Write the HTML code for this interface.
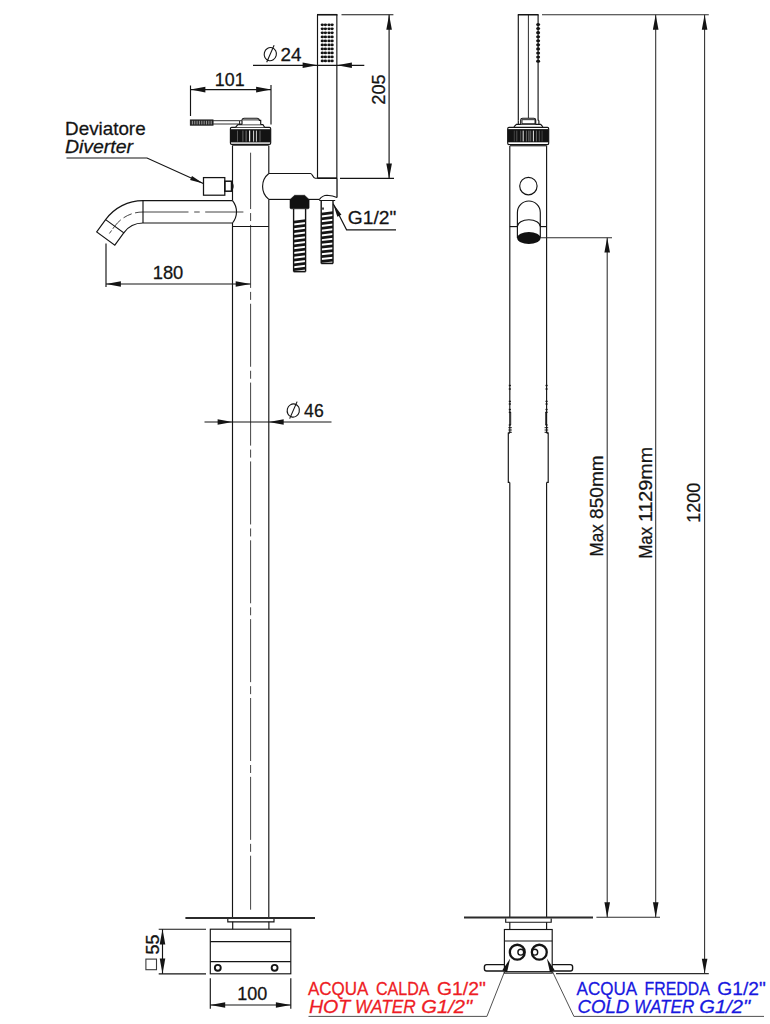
<!DOCTYPE html>
<html><head><meta charset="utf-8"><title>Drawing</title>
<style>
html,body{margin:0;padding:0;background:#fff;}
body{width:770px;height:1024px;overflow:hidden;}
svg{display:block;font-family:"Liberation Sans",sans-serif;}
</style></head>
<body>
<svg width="770" height="1024" viewBox="0 0 770 1024">
<rect width="770" height="1024" fill="#ffffff"/>
<line x1="232.5" y1="145.5" x2="232.5" y2="200.6" stroke="#141414" stroke-width="1.15" />
<line x1="232.5" y1="223" x2="232.5" y2="917.5" stroke="#141414" stroke-width="1.15" />
<line x1="268.8" y1="145.5" x2="268.8" y2="173.5" stroke="#141414" stroke-width="1.15" />
<line x1="268.8" y1="199.4" x2="268.8" y2="917.5" stroke="#141414" stroke-width="1.15" />
<line x1="232.5" y1="226.5" x2="268.8" y2="226.5" stroke="#141414" stroke-width="1.15" />
<line x1="250.6" y1="152.7" x2="250.6" y2="909.7" stroke="#141414" stroke-width="0.8" stroke-dasharray="63 4 8 3.85" stroke-dashoffset="6.65"/>
<path d="M232.5,200.6 A17.7,17.7 0 0 1 232.5,223" stroke="#141414" stroke-width="1.15" fill="none" />
<line x1="143" y1="200.6" x2="232.5" y2="200.6" stroke="#141414" stroke-width="1.15" />
<line x1="143" y1="223" x2="232.5" y2="223" stroke="#141414" stroke-width="1.15" />
<line x1="143" y1="200.6" x2="143" y2="223" stroke="#141414" stroke-width="1.15" />
<path d="M143,200.6 A46.2,46.2 0 0 0 105.62,219.64" stroke="#141414" stroke-width="1.15" fill="none" />
<path d="M143,223 A23.8,23.8 0 0 0 123.75,232.81" stroke="#141414" stroke-width="1.15" fill="none" />
<path d="M105.62,219.64 L123.75,232.81 L114.81,245.11 L96.69,231.94 Z" stroke="#141414" stroke-width="1.15" fill="none" />
<line x1="143" y1="212" x2="243.4" y2="212" stroke="#141414" stroke-width="0.8" stroke-dasharray="45.5 5.7 5.5 5.5 100"/>
<path d="M143,212 A35.0,35.0 0 0 0 114.68,226.23 l-5.29,7.28" stroke="#141414" stroke-width="0.8" fill="none" stroke-dasharray="8 3.5 9 3.5 12 2 9"/>
<rect x="203.5" y="177.6" width="21.3" height="17.6" fill="none" stroke="#141414" stroke-width="1.25"/>
<rect x="224.8" y="181.2" width="6.7" height="10" fill="none" stroke="#141414" stroke-width="1.5"/>
<path d="M232,182.5 Q234.3,186.2 232,190" stroke="#141414" stroke-width="1.15" fill="none" />
<rect x="232" y="144.4" width="36.8" height="1.5" fill="#4a4a4a"/>
<rect x="230.4" y="127.4" width="40.3" height="17" rx="1.3" fill="#fff" stroke="#141414" stroke-width="1.15"/>
<rect x="230.4" y="129.2" width="40.3" height="13.2" fill="#131313"/>
<line x1="237.5" y1="130.6" x2="237.5" y2="141.6" stroke="#555" stroke-width="1" />
<line x1="242.9" y1="130.6" x2="242.9" y2="141.6" stroke="#666" stroke-width="1" />
<line x1="246.1" y1="130.6" x2="246.1" y2="141.6" stroke="#777" stroke-width="1" />
<line x1="249.6" y1="130.6" x2="249.6" y2="141.6" stroke="#e8e8e8" stroke-width="1.2" />
<line x1="253.6" y1="130.6" x2="253.6" y2="141.6" stroke="#d8d8d8" stroke-width="1" />
<line x1="256.4" y1="130.6" x2="256.4" y2="141.6" stroke="#d0d0d0" stroke-width="1" />
<line x1="260" y1="130.6" x2="260" y2="141.6" stroke="#666" stroke-width="1" />
<path d="M235.7,127.2 L237.9,124.6 H262.9 L264.6,127.2" stroke="#141414" stroke-width="1.15" fill="#fff" />
<path d="M242,124.4 V120.2 Q242.1,118.2 244.2,118.2 H257.3 Q259.2,118.2 259.4,120.3 H260.7 V124.4" stroke="#141414" stroke-width="1.15" fill="#fff" />
<line x1="243" y1="119.9" x2="259.4" y2="119.9" stroke="#141414" stroke-width="0.9" />
<line x1="239.6" y1="121" x2="239.6" y2="124.4" stroke="#141414" stroke-width="1" />
<rect x="190.3" y="119.9" width="22.8" height="5.3" fill="#2a2a2a" stroke="#141414" stroke-width="0.8"/>
<line x1="192.4" y1="120.8" x2="192.4" y2="124.4" stroke="#b5b5b5" stroke-width="0.8" />
<line x1="194.75" y1="120.8" x2="194.75" y2="124.4" stroke="#b5b5b5" stroke-width="0.8" />
<line x1="197.1" y1="120.8" x2="197.1" y2="124.4" stroke="#b5b5b5" stroke-width="0.8" />
<line x1="199.45000000000002" y1="120.8" x2="199.45000000000002" y2="124.4" stroke="#b5b5b5" stroke-width="0.8" />
<line x1="201.8" y1="120.8" x2="201.8" y2="124.4" stroke="#b5b5b5" stroke-width="0.8" />
<line x1="204.15" y1="120.8" x2="204.15" y2="124.4" stroke="#b5b5b5" stroke-width="0.8" />
<line x1="206.5" y1="120.8" x2="206.5" y2="124.4" stroke="#b5b5b5" stroke-width="0.8" />
<line x1="208.85" y1="120.8" x2="208.85" y2="124.4" stroke="#b5b5b5" stroke-width="0.8" />
<line x1="211.20000000000002" y1="120.8" x2="211.20000000000002" y2="124.4" stroke="#b5b5b5" stroke-width="0.8" />
<line x1="213" y1="120.7" x2="242" y2="120.7" stroke="#333" stroke-width="1" />
<line x1="213" y1="124" x2="242" y2="124" stroke="#333" stroke-width="1" />
<path d="M268.8,173.5 A16.6,16.6 0 0 0 268.8,199.4" stroke="#141414" stroke-width="1.15" fill="none" />
<path d="M268.8,173.5 H310.5 C312.8,173.5 312.6,178.2 315.2,178.2 H337" stroke="#141414" stroke-width="1.15" fill="none" />
<line x1="317.5" y1="178.2" x2="337" y2="178.2" stroke="#141414" stroke-width="1.6" />
<line x1="336.85" y1="14.75" x2="336.85" y2="178.2" stroke="#141414" stroke-width="1.15" />
<line x1="337" y1="178.2" x2="337" y2="197.4" stroke="#141414" stroke-width="1.3" />
<line x1="268.8" y1="199.4" x2="290.5" y2="199.4" stroke="#141414" stroke-width="1.15" />
<line x1="308.5" y1="199.4" x2="319.3" y2="199.4" stroke="#141414" stroke-width="1.15" />
<path d="M319.3,199.6 Q322.5,195.4 327,195.3 Q333,195.6 337,197.5" stroke="#141414" stroke-width="1.15" fill="none" />
<line x1="319.3" y1="200.5" x2="335.2" y2="200.5" stroke="#141414" stroke-width="1" />
<line x1="317.5" y1="14.75" x2="317.5" y2="178.2" stroke="#141414" stroke-width="1.15" />
<line x1="317" y1="14.75" x2="337.5" y2="14.75" stroke="#141414" stroke-width="1.6" />
<ellipse cx="322.3" cy="24.85" rx="1.65" ry="1.4" fill="#141414"/>
<ellipse cx="325.4" cy="24.85" rx="1.65" ry="1.4" fill="#141414"/>
<ellipse cx="329.0" cy="24.85" rx="1.65" ry="1.4" fill="#141414"/>
<ellipse cx="332.1" cy="24.85" rx="1.65" ry="1.4" fill="#141414"/>
<ellipse cx="322.3" cy="28.86" rx="1.65" ry="1.4" fill="#141414"/>
<ellipse cx="325.4" cy="28.86" rx="1.65" ry="1.4" fill="#141414"/>
<ellipse cx="329.0" cy="28.86" rx="1.65" ry="1.4" fill="#141414"/>
<ellipse cx="332.1" cy="28.86" rx="1.65" ry="1.4" fill="#141414"/>
<ellipse cx="322.3" cy="32.87" rx="1.65" ry="1.4" fill="#141414"/>
<ellipse cx="325.4" cy="32.87" rx="1.65" ry="1.4" fill="#141414"/>
<ellipse cx="329.0" cy="32.87" rx="1.65" ry="1.4" fill="#141414"/>
<ellipse cx="332.1" cy="32.87" rx="1.65" ry="1.4" fill="#141414"/>
<ellipse cx="322.3" cy="36.88" rx="1.65" ry="1.4" fill="#141414"/>
<ellipse cx="325.4" cy="36.88" rx="1.65" ry="1.4" fill="#141414"/>
<ellipse cx="329.0" cy="36.88" rx="1.65" ry="1.4" fill="#141414"/>
<ellipse cx="332.1" cy="36.88" rx="1.65" ry="1.4" fill="#141414"/>
<ellipse cx="322.3" cy="40.89" rx="1.65" ry="1.4" fill="#141414"/>
<ellipse cx="325.4" cy="40.89" rx="1.65" ry="1.4" fill="#141414"/>
<ellipse cx="329.0" cy="40.89" rx="1.65" ry="1.4" fill="#141414"/>
<ellipse cx="332.1" cy="40.89" rx="1.65" ry="1.4" fill="#141414"/>
<ellipse cx="322.3" cy="44.90" rx="1.65" ry="1.4" fill="#141414"/>
<ellipse cx="325.4" cy="44.90" rx="1.65" ry="1.4" fill="#141414"/>
<ellipse cx="329.0" cy="44.90" rx="1.65" ry="1.4" fill="#141414"/>
<ellipse cx="332.1" cy="44.90" rx="1.65" ry="1.4" fill="#141414"/>
<ellipse cx="322.3" cy="48.91" rx="1.65" ry="1.4" fill="#141414"/>
<ellipse cx="325.4" cy="48.91" rx="1.65" ry="1.4" fill="#141414"/>
<ellipse cx="329.0" cy="48.91" rx="1.65" ry="1.4" fill="#141414"/>
<ellipse cx="332.1" cy="48.91" rx="1.65" ry="1.4" fill="#141414"/>
<ellipse cx="322.3" cy="52.92" rx="1.65" ry="1.4" fill="#141414"/>
<ellipse cx="325.4" cy="52.92" rx="1.65" ry="1.4" fill="#141414"/>
<ellipse cx="329.0" cy="52.92" rx="1.65" ry="1.4" fill="#141414"/>
<ellipse cx="332.1" cy="52.92" rx="1.65" ry="1.4" fill="#141414"/>
<ellipse cx="322.3" cy="56.93" rx="1.65" ry="1.4" fill="#141414"/>
<ellipse cx="325.4" cy="56.93" rx="1.65" ry="1.4" fill="#141414"/>
<ellipse cx="329.0" cy="56.93" rx="1.65" ry="1.4" fill="#141414"/>
<ellipse cx="332.1" cy="56.93" rx="1.65" ry="1.4" fill="#141414"/>
<ellipse cx="322.3" cy="60.94" rx="1.65" ry="1.4" fill="#141414"/>
<ellipse cx="325.4" cy="60.94" rx="1.65" ry="1.4" fill="#141414"/>
<ellipse cx="329.0" cy="60.94" rx="1.65" ry="1.4" fill="#141414"/>
<ellipse cx="332.1" cy="60.94" rx="1.65" ry="1.4" fill="#141414"/>
<path d="M290,199.6 L294.6,195.3 H304.6 L309.1,199.6 V207.6 Q309.1,208.8 308,208.8 H291.2 Q290,208.8 290,207.6 Z" stroke="#141414" stroke-width="0.6" fill="#111" />
<line x1="293.6" y1="208.8" x2="293.6" y2="271.6" stroke="#141414" stroke-width="1.4" />
<line x1="305.6" y1="208.8" x2="305.6" y2="271.6" stroke="#141414" stroke-width="1.4" />
<polygon points="293.6,220.70 305.6,219.30 305.6,222.05 293.6,223.45" fill="#141414"/>
<polygon points="293.6,225.45 305.6,224.05 305.6,226.80 293.6,228.20" fill="#141414"/>
<polygon points="293.6,230.21 305.6,228.81 305.6,231.56 293.6,232.96" fill="#141414"/>
<polygon points="293.6,234.96 305.6,233.56 305.6,236.31 293.6,237.71" fill="#141414"/>
<polygon points="293.6,239.72 305.6,238.32 305.6,241.07 293.6,242.47" fill="#141414"/>
<polygon points="293.6,244.47 305.6,243.07 305.6,245.82 293.6,247.22" fill="#141414"/>
<polygon points="293.6,249.23 305.6,247.83 305.6,250.58 293.6,251.98" fill="#141414"/>
<polygon points="293.6,253.98 305.6,252.58 305.6,255.33 293.6,256.73" fill="#141414"/>
<polygon points="293.6,258.74 305.6,257.34 305.6,260.09 293.6,261.49" fill="#141414"/>
<polygon points="293.6,263.49 305.6,262.09 305.6,264.84 293.6,266.24" fill="#141414"/>
<polygon points="293.6,268.25 305.6,266.85 305.6,269.60 293.6,271.00" fill="#141414"/>
<line x1="293.6" y1="271.6" x2="305.6" y2="271.6" stroke="#141414" stroke-width="1.6" />
<line x1="321.2" y1="200.5" x2="321.2" y2="263.4" stroke="#141414" stroke-width="1.4" />
<line x1="333.0" y1="200.5" x2="333.0" y2="263.4" stroke="#141414" stroke-width="1.4" />
<polygon points="321.2,212.70 333.0,211.30 333.0,214.05 321.2,215.45" fill="#141414"/>
<polygon points="321.2,217.44 333.0,216.04 333.0,218.79 321.2,220.19" fill="#141414"/>
<polygon points="321.2,222.17 333.0,220.77 333.0,223.52 321.2,224.92" fill="#141414"/>
<polygon points="321.2,226.91 333.0,225.51 333.0,228.26 321.2,229.66" fill="#141414"/>
<polygon points="321.2,231.65 333.0,230.25 333.0,233.00 321.2,234.40" fill="#141414"/>
<polygon points="321.2,236.38 333.0,234.98 333.0,237.73 321.2,239.13" fill="#141414"/>
<polygon points="321.2,241.12 333.0,239.72 333.0,242.47 321.2,243.87" fill="#141414"/>
<polygon points="321.2,245.85 333.0,244.45 333.0,247.20 321.2,248.60" fill="#141414"/>
<polygon points="321.2,250.59 333.0,249.19 333.0,251.94 321.2,253.34" fill="#141414"/>
<polygon points="321.2,255.33 333.0,253.93 333.0,256.68 321.2,258.08" fill="#141414"/>
<polygon points="321.2,260.06 333.0,258.66 333.0,261.41 321.2,262.81" fill="#141414"/>
<line x1="321.2" y1="263.4" x2="333.0" y2="263.4" stroke="#141414" stroke-width="1.6" />
<rect x="322.2" y="207.5" width="1.6" height="2.2" fill="#141414"/>
<line x1="190.5" y1="85.5" x2="190.5" y2="116" stroke="#141414" stroke-width="1.15" />
<line x1="271" y1="85" x2="271" y2="124.5" stroke="#141414" stroke-width="1.15" />
<line x1="190.5" y1="89.6" x2="271" y2="89.6" stroke="#141414" stroke-width="1.15" />
<polygon points="190.50,89.60 205.40,86.80 205.40,92.40" fill="#141414"/>
<polygon points="271.00,89.60 256.10,92.40 256.10,86.80" fill="#141414"/>
<text x="214.8" y="85.8" font-size="18.6" fill="#141414" stroke="#141414" stroke-width="0.28" stroke-linejoin="round" textLength="29.8" lengthAdjust="spacingAndGlyphs">101</text>
<line x1="253" y1="65.3" x2="364.3" y2="65.3" stroke="#141414" stroke-width="1.15" />
<polygon points="317.50,65.30 302.60,68.10 302.60,62.50" fill="#141414"/>
<polygon points="337.00,65.30 351.90,62.50 351.90,68.10" fill="#141414"/>
<text x="280.5" y="61.3" font-size="18.6" fill="#141414" stroke="#141414" stroke-width="0.28" stroke-linejoin="round" textLength="21.0" lengthAdjust="spacingAndGlyphs">24</text>
<ellipse cx="270.3" cy="54.1" rx="6.1" ry="6.6" fill="none" stroke="#141414" stroke-width="1.1" transform="rotate(15 270.3 54.1)"/>
<line x1="266.7" y1="62.2" x2="274.1" y2="45.2" stroke="#141414" stroke-width="1.1" />
<line x1="341.5" y1="14.75" x2="393.4" y2="14.75" stroke="#141414" stroke-width="1.15" />
<line x1="340" y1="178.4" x2="394" y2="178.4" stroke="#141414" stroke-width="1.15" />
<line x1="389.1" y1="14.75" x2="389.1" y2="178.4" stroke="#141414" stroke-width="1.15" />
<polygon points="389.10,14.75 391.90,29.65 386.30,29.65" fill="#141414"/>
<polygon points="389.10,178.40 386.30,163.50 391.90,163.50" fill="#141414"/>
<text x="385.3" y="104.7" font-size="18.6" fill="#141414" stroke="#141414" stroke-width="0.28" stroke-linejoin="round" textLength="30.4" lengthAdjust="spacingAndGlyphs" transform="rotate(-90 385.3 104.7)">205</text>
<line x1="106" y1="243.4" x2="106" y2="287" stroke="#141414" stroke-width="1.15" />
<line x1="106" y1="284" x2="250.6" y2="284" stroke="#141414" stroke-width="1.15" />
<polygon points="106.00,284.00 120.90,281.20 120.90,286.80" fill="#141414"/>
<polygon points="250.60,284.00 235.70,286.80 235.70,281.20" fill="#141414"/>
<text x="152.7" y="278.8" font-size="18.6" fill="#141414" stroke="#141414" stroke-width="0.28" stroke-linejoin="round" textLength="30.6" lengthAdjust="spacingAndGlyphs">180</text>
<line x1="204.5" y1="422" x2="331.5" y2="422" stroke="#141414" stroke-width="1.15" />
<polygon points="232.50,422.00 217.60,424.80 217.60,419.20" fill="#141414"/>
<polygon points="268.80,422.00 283.70,419.20 283.70,424.80" fill="#141414"/>
<text x="304.1" y="417.3" font-size="18.6" fill="#141414" stroke="#141414" stroke-width="0.28" stroke-linejoin="round" textLength="19.6" lengthAdjust="spacingAndGlyphs">46</text>
<ellipse cx="293.3" cy="410.5" rx="6.1" ry="6.6" fill="none" stroke="#141414" stroke-width="1.1" transform="rotate(15 293.3 410.5)"/>
<line x1="289.7" y1="418.6" x2="297.1" y2="401.6" stroke="#141414" stroke-width="1.1" />
<text x="65.1" y="134.7" font-size="18.6" fill="#141414" stroke="#141414" stroke-width="0.28" stroke-linejoin="round" textLength="80.5" lengthAdjust="spacingAndGlyphs">Deviatore</text>
<text x="64.9" y="152.8" font-size="18.6" fill="#141414" stroke="#141414" stroke-width="0.28" stroke-linejoin="round" textLength="68.2" lengthAdjust="spacingAndGlyphs" font-style="italic">Diverter</text>
<path d="M66.5,158 H147 L203.3,183.6" stroke="#141414" stroke-width="1.15" fill="none" />
<polygon points="203.30,183.60 190.07,180.07 191.99,175.89" fill="#141414"/>
<text x="347.8" y="224" font-size="18.6" fill="#141414" stroke="#141414" stroke-width="0.28" stroke-linejoin="round" textLength="48.5" lengthAdjust="spacingAndGlyphs">G1/2"</text>
<path d="M396,229.8 H346.6 L333.2,203.8" stroke="#141414" stroke-width="1.15" fill="none" />
<polygon points="333.20,203.80 341.43,214.75 337.34,216.85" fill="#141414"/>
<line x1="185.4" y1="918" x2="315" y2="918" stroke="#2b2b2b" stroke-width="2.2" />
<path d="M227.8,919 V921.8 H274 V919" stroke="#141414" stroke-width="1.15" fill="none" />
<line x1="232.7" y1="921.8" x2="232.7" y2="929.2" stroke="#141414" stroke-width="1.15" />
<line x1="268.9" y1="921.8" x2="268.9" y2="929.2" stroke="#141414" stroke-width="1.15" />
<rect x="210.3" y="929.2" width="80.5" height="44.6" fill="none" stroke="#141414" stroke-width="1.15"/>
<line x1="210.3" y1="941.6" x2="290.8" y2="941.6" stroke="#141414" stroke-width="1.15" />
<line x1="210.3" y1="961.6" x2="290.8" y2="961.6" stroke="#141414" stroke-width="1.15" />
<circle cx="217.8" cy="967.8" r="2.95" fill="none" stroke="#141414" stroke-width="1.9"/>
<circle cx="274.6" cy="967.8" r="2.95" fill="none" stroke="#141414" stroke-width="1.9"/>
<line x1="158.7" y1="929.2" x2="206" y2="929.2" stroke="#141414" stroke-width="1.15" />
<line x1="158.7" y1="973.8" x2="206" y2="973.8" stroke="#141414" stroke-width="1.15" />
<line x1="162.5" y1="929.2" x2="162.5" y2="973.8" stroke="#141414" stroke-width="1.15" />
<polygon points="162.50,929.20 165.30,944.60 159.70,944.60" fill="#141414"/>
<polygon points="162.50,973.80 159.70,958.40 165.30,958.40" fill="#141414"/>
<text x="158.6" y="954.6" font-size="18.6" fill="#141414" stroke="#141414" stroke-width="0.28" stroke-linejoin="round" textLength="20.0" lengthAdjust="spacingAndGlyphs" transform="rotate(-90 158.6 954.6)">55</text>
<rect x="145.9" y="959.1" width="10.6" height="10.6" fill="none" stroke="#3a3a3a" stroke-width="1.1"/>
<line x1="210.3" y1="978.3" x2="210.3" y2="1008.7" stroke="#141414" stroke-width="1.15" />
<line x1="290.8" y1="978.3" x2="290.8" y2="1008.7" stroke="#141414" stroke-width="1.15" />
<line x1="210.3" y1="1005" x2="290.8" y2="1005" stroke="#141414" stroke-width="1.15" />
<polygon points="210.30,1005.00 225.20,1002.20 225.20,1007.80" fill="#141414"/>
<polygon points="290.80,1005.00 275.90,1007.80 275.90,1002.20" fill="#141414"/>
<text x="237.2" y="999.5" font-size="18.6" fill="#141414" stroke="#141414" stroke-width="0.28" stroke-linejoin="round" textLength="30.0" lengthAdjust="spacingAndGlyphs">100</text>
<line x1="509.8" y1="146" x2="509.8" y2="433.1" stroke="#141414" stroke-width="1.15" />
<line x1="509.8" y1="482.4" x2="509.8" y2="917" stroke="#141414" stroke-width="1.15" />
<line x1="546.6" y1="146" x2="546.6" y2="433.1" stroke="#141414" stroke-width="1.15" />
<line x1="546.6" y1="482.4" x2="546.6" y2="917" stroke="#141414" stroke-width="1.15" />
<path d="M509.8,433.1 H508.3 V482.4 H509.8" stroke="#141414" stroke-width="1.15" fill="none" />
<path d="M546.6,433.1 H548.2 V482.4 H546.6" stroke="#141414" stroke-width="1.15" fill="none" />
<line x1="508.8" y1="385.5" x2="510.90000000000003" y2="385.5" stroke="#141414" stroke-width="1.3" />
<line x1="545.5" y1="385.5" x2="547.6" y2="385.5" stroke="#141414" stroke-width="1.3" />
<line x1="508.8" y1="389" x2="510.90000000000003" y2="389" stroke="#141414" stroke-width="1.3" />
<line x1="545.5" y1="389" x2="547.6" y2="389" stroke="#141414" stroke-width="1.3" />
<line x1="508.8" y1="401.4" x2="510.90000000000003" y2="401.4" stroke="#141414" stroke-width="1.3" />
<line x1="545.5" y1="401.4" x2="547.6" y2="401.4" stroke="#141414" stroke-width="1.3" />
<line x1="508.8" y1="404" x2="510.90000000000003" y2="404" stroke="#141414" stroke-width="1.3" />
<line x1="545.5" y1="404" x2="547.6" y2="404" stroke="#141414" stroke-width="1.3" />
<line x1="508.8" y1="409.5" x2="510.90000000000003" y2="409.5" stroke="#141414" stroke-width="1.3" />
<line x1="545.5" y1="409.5" x2="547.6" y2="409.5" stroke="#141414" stroke-width="1.3" />
<line x1="508.8" y1="412.3" x2="510.90000000000003" y2="412.3" stroke="#141414" stroke-width="1.3" />
<line x1="545.5" y1="412.3" x2="547.6" y2="412.3" stroke="#141414" stroke-width="1.3" />
<line x1="508.8" y1="425" x2="510.90000000000003" y2="425" stroke="#141414" stroke-width="1.3" />
<line x1="545.5" y1="425" x2="547.6" y2="425" stroke="#141414" stroke-width="1.3" />
<line x1="510.7" y1="412" x2="510.7" y2="425" stroke="#141414" stroke-width="0.9" />
<line x1="545.7" y1="412" x2="545.7" y2="425" stroke="#141414" stroke-width="0.9" />
<line x1="508.40000000000003" y1="427.7" x2="511.8" y2="427.7" stroke="#141414" stroke-width="1" />
<line x1="544.6" y1="427.7" x2="548.2" y2="427.7" stroke="#141414" stroke-width="1" />
<line x1="508.40000000000003" y1="430" x2="511.8" y2="430" stroke="#141414" stroke-width="1" />
<line x1="544.6" y1="430" x2="548.2" y2="430" stroke="#141414" stroke-width="1" />
<line x1="508.40000000000003" y1="432.3" x2="511.8" y2="432.3" stroke="#141414" stroke-width="1" />
<line x1="544.6" y1="432.3" x2="548.2" y2="432.3" stroke="#141414" stroke-width="1" />
<line x1="518.3" y1="14.75" x2="518.3" y2="120.4" stroke="#141414" stroke-width="1.15" />
<line x1="538.1" y1="14.75" x2="538.1" y2="120.4" stroke="#141414" stroke-width="1.15" />
<line x1="528.4" y1="14.75" x2="528.4" y2="118" stroke="#141414" stroke-width="0.9" />
<line x1="517.8" y1="14.75" x2="538.6" y2="14.75" stroke="#141414" stroke-width="1.5" />
<ellipse cx="538.1" cy="24.50" rx="2" ry="1.55" fill="#141414"/>
<ellipse cx="538.1" cy="28.57" rx="2" ry="1.55" fill="#141414"/>
<ellipse cx="538.1" cy="32.64" rx="2" ry="1.55" fill="#141414"/>
<ellipse cx="538.1" cy="36.71" rx="2" ry="1.55" fill="#141414"/>
<ellipse cx="538.1" cy="40.78" rx="2" ry="1.55" fill="#141414"/>
<ellipse cx="538.1" cy="44.85" rx="2" ry="1.55" fill="#141414"/>
<ellipse cx="538.1" cy="48.92" rx="2" ry="1.55" fill="#141414"/>
<ellipse cx="538.1" cy="52.99" rx="2" ry="1.55" fill="#141414"/>
<ellipse cx="538.1" cy="57.06" rx="2" ry="1.55" fill="#141414"/>
<ellipse cx="538.1" cy="61.13" rx="2" ry="1.55" fill="#141414"/>
<path d="M513.9,126.9 L516.4,124.4 H540.7 L542.9,126.9" stroke="#141414" stroke-width="1.15" fill="#fff" />
<path d="M518.3,120.4 V124.3 M538.9,120.4 V124.3 M538.1,120.4 H538.9" stroke="#141414" stroke-width="1.15" fill="none" />
<path d="M520.7,124.3 V120 Q520.8,118.2 522.6,118.2 H533.8 Q535.6,118.2 535.7,120 V124.3" stroke="#141414" stroke-width="1.15" fill="#fff" />
<rect x="522" y="119.7" width="13" height="4" fill="none" stroke="#141414" stroke-width="0.9"/>
<rect x="510" y="144.6" width="36.8" height="1.8" fill="#4a4a4a"/>
<rect x="507.7" y="127.4" width="41" height="17.2" rx="1.3" fill="#fff" stroke="#141414" stroke-width="1.15"/>
<rect x="507.7" y="129.1" width="41" height="13.2" fill="#131313"/>
<line x1="514.3" y1="130.6" x2="514.3" y2="141.4" stroke="#444" stroke-width="1" />
<line x1="516.8" y1="130.6" x2="516.8" y2="141.4" stroke="#555" stroke-width="1" />
<line x1="520.7" y1="130.6" x2="520.7" y2="141.4" stroke="#555" stroke-width="1" />
<line x1="523.2" y1="130.6" x2="523.2" y2="141.4" stroke="#e8e8e8" stroke-width="1" />
<line x1="526.4" y1="130.6" x2="526.4" y2="141.4" stroke="#666" stroke-width="1" />
<line x1="528.9" y1="130.6" x2="528.9" y2="141.4" stroke="#777" stroke-width="1" />
<line x1="530.7" y1="130.6" x2="530.7" y2="141.4" stroke="#666" stroke-width="1" />
<line x1="533.4" y1="130.6" x2="533.4" y2="141.4" stroke="#e8e8e8" stroke-width="1" />
<line x1="536.4" y1="130.6" x2="536.4" y2="141.4" stroke="#666" stroke-width="1" />
<line x1="539.3" y1="130.6" x2="539.3" y2="141.4" stroke="#555" stroke-width="1" />
<line x1="542.1" y1="130.6" x2="542.1" y2="141.4" stroke="#444" stroke-width="1" />
<circle cx="528.4" cy="186.1" r="8.7" fill="none" stroke="#141414" stroke-width="1.15"/>
<path d="M517.4,238 V212.4 A11.45,11.45 0 0 1 540.3,212.4 V238" stroke="#141414" stroke-width="1.15" fill="none" />
<path d="M517.4,226.6 A11.45,6.9 0 0 1 540.3,226.6" stroke="#141414" stroke-width="1.15" fill="none" />
<line x1="509.8" y1="226.6" x2="517.4" y2="226.6" stroke="#141414" stroke-width="1.15" />
<line x1="540.3" y1="226.6" x2="546.6" y2="226.6" stroke="#141414" stroke-width="1.15" />
<ellipse cx="528.85" cy="238" rx="11.7" ry="6.1" fill="#111"/>
<line x1="542" y1="14.75" x2="708.8" y2="14.75" stroke="#2c2c2c" stroke-width="1.05" />
<line x1="540.3" y1="237.7" x2="612" y2="237.7" stroke="#2c2c2c" stroke-width="1.05" />
<line x1="596.4" y1="917.2" x2="660" y2="917.2" stroke="#2c2c2c" stroke-width="1.05" />
<line x1="556" y1="973.6" x2="708.8" y2="973.6" stroke="#2c2c2c" stroke-width="1.05" />
<line x1="607.2" y1="237.7" x2="607.2" y2="917.2" stroke="#2c2c2c" stroke-width="1.05" />
<polygon points="607.20,237.70 610.00,252.60 604.40,252.60" fill="#141414"/>
<polygon points="607.20,917.20 604.40,902.30 610.00,902.30" fill="#141414"/>
<line x1="655.7" y1="14.75" x2="655.7" y2="917.2" stroke="#2c2c2c" stroke-width="1.05" />
<polygon points="655.70,14.75 658.50,29.65 652.90,29.65" fill="#141414"/>
<polygon points="655.70,917.20 652.90,902.30 658.50,902.30" fill="#141414"/>
<line x1="704.6" y1="14.75" x2="704.6" y2="973.6" stroke="#2c2c2c" stroke-width="1.05" />
<polygon points="704.60,14.75 707.40,29.65 701.80,29.65" fill="#141414"/>
<polygon points="704.60,973.60 701.80,958.70 707.40,958.70" fill="#141414"/>
<text x="603.3" y="556.4" font-size="18.6" fill="#141414" stroke="#141414" stroke-width="0.28" stroke-linejoin="round" textLength="32.2" lengthAdjust="spacingAndGlyphs" transform="rotate(-90 603.3 556.4)">Max</text>
<text x="603.3" y="518.9" font-size="18.6" fill="#141414" stroke="#141414" stroke-width="0.28" stroke-linejoin="round" textLength="63.7" lengthAdjust="spacingAndGlyphs" transform="rotate(-90 603.3 518.9)">850mm</text>
<text x="652.1" y="558.8" font-size="18.6" fill="#141414" stroke="#141414" stroke-width="0.28" stroke-linejoin="round" textLength="32.1" lengthAdjust="spacingAndGlyphs" transform="rotate(-90 652.1 558.8)">Max</text>
<text x="652.1" y="522.1" font-size="18.6" fill="#141414" stroke="#141414" stroke-width="0.28" stroke-linejoin="round" textLength="75.2" lengthAdjust="spacingAndGlyphs" transform="rotate(-90 652.1 522.1)">1129mm</text>
<text x="700.5" y="522.7" font-size="18.6" fill="#141414" stroke="#141414" stroke-width="0.28" stroke-linejoin="round" textLength="40.0" lengthAdjust="spacingAndGlyphs" transform="rotate(-90 700.5 522.7)">1200</text>
<line x1="464" y1="917.5" x2="593" y2="917.5" stroke="#2b2b2b" stroke-width="2.2" />
<path d="M505.7,918.6 V922.2 H551.2 V918.6" stroke="#141414" stroke-width="1.15" fill="none" />
<line x1="509.8" y1="922.2" x2="509.8" y2="929.5" stroke="#141414" stroke-width="1.15" />
<line x1="546.6" y1="922.2" x2="546.6" y2="929.5" stroke="#141414" stroke-width="1.15" />
<rect x="504.4" y="929.5" width="47.8" height="43.6" fill="none" stroke="#141414" stroke-width="1.15"/>
<line x1="504.4" y1="941" x2="552.2" y2="941" stroke="#141414" stroke-width="1.15" />
<circle cx="517.3" cy="952.2" r="7.45" fill="none" stroke="#141414" stroke-width="2.3"/>
<circle cx="520.8" cy="952.2" r="2.9" fill="none" stroke="#141414" stroke-width="1.4"/>
<circle cx="539.3" cy="952.2" r="7.45" fill="none" stroke="#141414" stroke-width="2.3"/>
<circle cx="534.8" cy="952.2" r="2.9" fill="none" stroke="#141414" stroke-width="1.4"/>
<line x1="504.4" y1="971.6" x2="552.2" y2="971.6" stroke="#141414" stroke-width="1" />
<path d="M504.4,964.6 H486.6 Q484.4,964.6 484.4,966.8 V968.8 Q484.4,971 486.6,971 H504.4" stroke="#141414" stroke-width="1.4" fill="none" />
<path d="M552.2,964.6 H570.4 Q572.6,964.6 572.6,966.8 V968.8 Q572.6,971 570.4,971 H552.2" stroke="#141414" stroke-width="1.4" fill="none" />
<path d="M504.8,971 L486.9,1016.4 H308.5" stroke="#3c3c3c" stroke-width="0.9" fill="none" />
<polygon points="510.20,958.40 507.05,972.29 502.27,970.23" fill="#141414"/>
<path d="M552.2,971 L573.9,1016.4 H764" stroke="#3c3c3c" stroke-width="0.9" fill="none" />
<polygon points="546.90,958.40 554.75,970.28 549.96,972.31" fill="#141414"/>
<text x="307.9" y="994.6" font-size="18.6" fill="#ee1c25" stroke="#ee1c25" stroke-width="0.28" stroke-linejoin="round" textLength="60.5" lengthAdjust="spacingAndGlyphs">ACQUA</text>
<text x="375.9" y="994.6" font-size="18.6" fill="#ee1c25" stroke="#ee1c25" stroke-width="0.28" stroke-linejoin="round" textLength="53.6" lengthAdjust="spacingAndGlyphs">CALDA</text>
<text x="437.0" y="994.6" font-size="18.6" fill="#ee1c25" stroke="#ee1c25" stroke-width="0.28" stroke-linejoin="round" textLength="48.8" lengthAdjust="spacingAndGlyphs">G1/2"</text>
<text x="308.9" y="1012.7" font-size="18.6" fill="#ee1c25" stroke="#ee1c25" stroke-width="0.28" stroke-linejoin="round" textLength="41.4" lengthAdjust="spacingAndGlyphs" font-style="italic">HOT</text>
<text x="354.9" y="1012.7" font-size="18.6" fill="#ee1c25" stroke="#ee1c25" stroke-width="0.28" stroke-linejoin="round" textLength="60.8" lengthAdjust="spacingAndGlyphs" font-style="italic">WATER</text>
<text x="421.3" y="1012.7" font-size="18.6" fill="#ee1c25" stroke="#ee1c25" stroke-width="0.28" stroke-linejoin="round" textLength="50.8" lengthAdjust="spacingAndGlyphs" font-style="italic">G1/2"</text>
<text x="576.6" y="994.5" font-size="18.6" fill="#1818e0" stroke="#1818e0" stroke-width="0.28" stroke-linejoin="round" textLength="60.5" lengthAdjust="spacingAndGlyphs">ACQUA</text>
<text x="644.6" y="994.5" font-size="18.6" fill="#1818e0" stroke="#1818e0" stroke-width="0.28" stroke-linejoin="round" textLength="65.3" lengthAdjust="spacingAndGlyphs">FREDDA</text>
<text x="717.3" y="994.5" font-size="18.6" fill="#1818e0" stroke="#1818e0" stroke-width="0.28" stroke-linejoin="round" textLength="48.4" lengthAdjust="spacingAndGlyphs">G1/2"</text>
<text x="577.5" y="1012.7" font-size="18.6" fill="#1818e0" stroke="#1818e0" stroke-width="0.28" stroke-linejoin="round" textLength="51.8" lengthAdjust="spacingAndGlyphs" font-style="italic">COLD</text>
<text x="634.1" y="1012.7" font-size="18.6" fill="#1818e0" stroke="#1818e0" stroke-width="0.28" stroke-linejoin="round" textLength="60.2" lengthAdjust="spacingAndGlyphs" font-style="italic">WATER</text>
<text x="699.2" y="1012.7" font-size="18.6" fill="#1818e0" stroke="#1818e0" stroke-width="0.28" stroke-linejoin="round" textLength="50.9" lengthAdjust="spacingAndGlyphs" font-style="italic">G1/2"</text>
</svg>
</body></html>
